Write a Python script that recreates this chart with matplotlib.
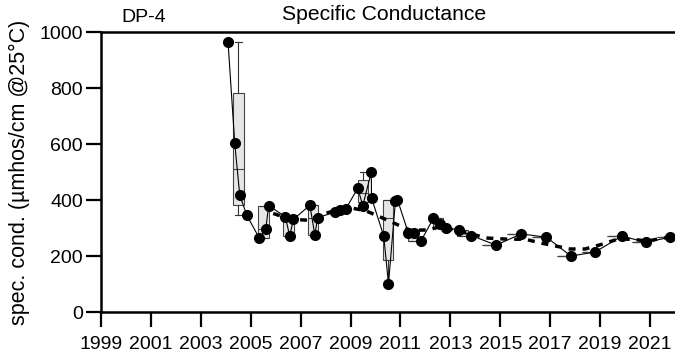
import matplotlib
matplotlib.use("Agg")
import matplotlib.pyplot as plt

plt.rcParams['font.family'] = ['Liberation Sans', 'DejaVu Sans']

# sample dates (decimal years) and specific conductance readings
dates = [2004.09, 2004.36, 2004.56, 2004.84,
         2005.35, 2005.60, 2005.72,
         2006.39, 2006.56, 2006.71,
         2007.37, 2007.57, 2007.68,
         2008.39, 2008.56, 2008.80,
         2009.29, 2009.49, 2009.83, 2009.84,
         2010.33, 2010.52, 2010.80, 2010.88,
         2011.32, 2011.53, 2011.83,
         2012.32, 2012.60, 2012.83,
         2013.33, 2013.84,
         2014.83, 2015.84, 2016.85, 2017.83, 2018.79,
         2019.87, 2020.85, 2021.79]
values = [965, 602, 418, 346,
          263, 295, 380,
          340, 271, 331,
          381, 275, 337,
          357, 364, 367,
          442, 380, 499, 408,
          271, 100, 398, 401,
          281, 281, 255,
          335, 313, 301,
          293, 273,
          239, 279, 267, 200, 214,
          271, 249, 267]

# trend line (dashed)
trend_x = [2005.9, 2006.3, 2006.8, 2007.3, 2007.9, 2008.5, 2009.0, 2009.6,
           2010.3, 2010.8, 2011.4, 2012.1, 2012.6, 2013.6, 2014.5, 2015.3,
           2016.0, 2016.6, 2017.2, 2017.8, 2018.4, 2019.0, 2019.7, 2020.3,
           2020.9, 2021.5, 2021.9]
trend_y = [352, 340, 330, 328, 350, 365, 372, 362,
           335, 315, 292, 293, 305, 283, 264, 260,
           260, 247, 236, 225, 225, 240, 260, 260,
           253, 264, 267]

years = list(range(1999, 2022, 2))


def median(v):
    n = len(v)
    if n % 2:
        return v[n // 2]
    return (v[n // 2 - 1] + v[n // 2]) / 2


# yearly box stats (hinges from lower/upper halves, median excluded)
stats = []
pos = []
for yr in range(2004, 2022):
    v = sorted(val for d, val in zip(dates, values) if int(d) == yr)
    if not v:
        continue
    h = len(v) // 2
    lo = v[:h] if h else v
    up = v[len(v) - h:] if h else v
    stats.append(dict(med=median(v), q1=median(lo), q3=median(up),
                      whislo=v[0], whishi=v[-1], fliers=[]))
    pos.append(yr + 0.5)

fig = plt.figure(figsize=(6.75, 3.6), dpi=100)
ax = fig.add_axes([0.1496, 0.1333, 0.8504, 0.7778])

ax.bxp(stats, positions=pos, widths=0.43, patch_artist=True, capwidths=0.28,
       boxprops=dict(facecolor='#e6e6e6', edgecolor='#444444', linewidth=0.8),
       medianprops=dict(color='#444444', linewidth=0.8),
       whiskerprops=dict(color='#333333', linewidth=0.8),
       capprops=dict(color='#333333', linewidth=0.8),
       manage_ticks=False, zorder=1)

ax.plot(trend_x, trend_y, color='black', lw=2.5, dashes=(2, 2), zorder=2)
ax.plot(dates, values, color='black', lw=0.8, marker='o', markersize=7,
        zorder=3)

ax.set_xlim(1999, 2022)
ax.set_ylim(0, 1000)
ax.set_xticks(years)
ax.set_yticks([0, 200, 400, 600, 800, 1000])
ax.tick_params(labelsize=14, length=11, width=1.6, direction='out')
ax.tick_params(axis='x', pad=6)
ax.tick_params(axis='y', pad=2)

for s in ['left', 'bottom', 'top']:
    ax.spines[s].set_linewidth(1.8)
ax.spines['right'].set_visible(False)

ax.set_ylabel('spec. cond. (µmhos/cm @25°C)', fontsize=15.5)
ax.yaxis.set_label_coords(-0.124, 0.5)

fig.text(144 / 675, 1 - 17 / 360, 'DP-4', fontsize=14, ha='center', va='center')
fig.text(384 / 675, 1 - 15 / 360, 'Specific Conductance', fontsize=15.2,
         ha='center', va='center')

fig.savefig('out.png', dpi=100)
